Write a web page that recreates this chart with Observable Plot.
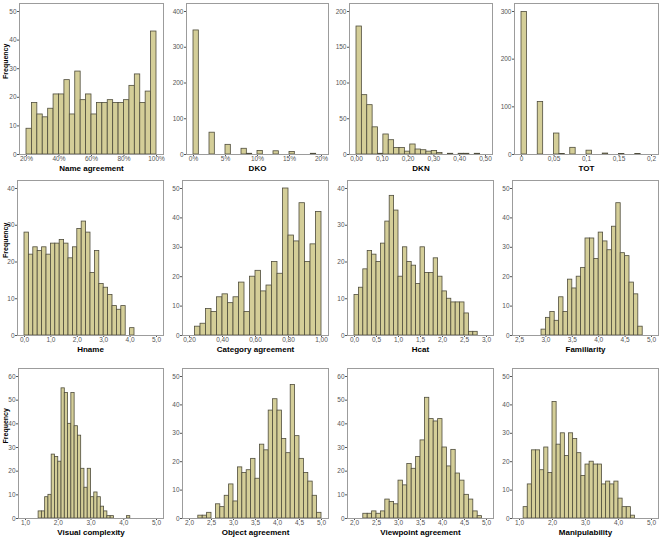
<!DOCTYPE html>
<html><head><meta charset="utf-8">
<script src="https://cdn.jsdelivr.net/npm/d3@7"></script>
<script src="https://cdn.jsdelivr.net/npm/@observablehq/plot@0.6"></script>
<style>
body{margin:0;background:#fff;}
#chart{position:relative;width:661px;height:540px;overflow:hidden;background:#fff;}
#chart svg{position:absolute;}
</style></head><body><div id="chart"></div>
<script>
// ---- data: counts per histogram bin ----
const nameAgreementCounts = [9,18,14,13,16,21,21,26,14,29,19,21,14,18,18,19,18,18,19,24,28,18,22,43];
const dkoCounts = [347,0,0,61,0,0,27,0,0,16,2,0,10,0,0,9,0,0,7,0,0,0,2];
const dknCounts = [179,83,69,38,1,28,20,9,9,4,14,7,6,4,5,2,0,1,0,1,1,0,1];
const totCounts = [299,0,0,110,0,0,44,1,0,14,0,0,8,0,0,2,0,0,1,0,0,1];
const hnameCounts = [28,22,24,23,24,22,25,25,26,25,21,24,29,31,28,17,23,14,13,11,8,7,8,0,2];
const categoryAgreementCounts = [3,4,9,8,13,14,11,13,18,8,20,22,15,17,25,21,50,34,32,45,25,31,42];
const hcatCounts = [11,13,18,23,22,20,25,31,38,34,16,24,20,19,14,24,17,17,21,16,12,10,9,9,9,6,1,1];
const familiarityCounts = [2,6,8,5,13,8,19,16,20,23,33,33,26,35,32,29,37,45,28,27,18,14,3];
const visualComplexityCounts = [3,3,9,10,27,26,24,55,53,40,53,39,35,21,13,21,9,11,9,5,3,1,1,0,0,0,0,1];
const objectAgreementCounts = [1,1,2,0,5,4,8,12,6,18,16,17,21,14,26,24,38,42,38,28,23,47,29,21,16,13,8,2];
const viewpointAgreementCounts = [2,2,3,2,3,8,7,6,16,14,23,21,26,33,51,42,41,42,30,22,29,19,16,10,8,3,1];
const manipulabilityCounts = [4,12,24,24,17,25,16,41,26,30,22,30,28,23,15,19,20,19,19,12,13,12,13,7,4,4,1];

// bin definitions: [first bin start, bin width]
const nameAgreementBins = [20, 80/24];
const dkoBins = [0, 20/24];
const dknBins = [0, 0.5/24];
const totBins = [0, 0.2/24];
const hnameBins = [0, 1/6];
const categoryAgreementBins = [0.7/3, 1/30];
const hcatBins = [0, 0.1];
const familiarityBins = [35/12, 1/12];
const visualComplexityBins = [1.4, 0.1];
const objectAgreementBins = [2.2, 0.1];
const viewpointAgreementBins = [2.2, 0.1];
const manipulabilityBins = [1.125, 0.125];

// titles
const titles = ["Name agreement","DKO","DKN","TOT","Hname","Category agreement","Hcat","Familiarity",
  "Visual complexity","Object agreement","Viewpoint agreement","Manipulability"];

// tick values
const nameAgreementXTicks = [20,40,60,80,100];
const dkoXTicks = [0,5,10,15,20];
const dknXTicks = [0,0.1,0.2,0.3,0.4,0.5];
const totXTicks = [0,0.05,0.1,0.15,0.2];
const hnameXTicks = [0,1,2,3,4,5];
const categoryAgreementXTicks = [0.2,0.4,0.6,0.8,1];
const hcatXTicks = [0,0.5,1,1.5,2,2.5,3];
const familiarityXTicks = [2.5,3,3.5,4,4.5,5];
const visualComplexityXTicks = [1,2,3,4,5];
const objectAgreementXTicks = [2,2.5,3,3.5,4,4.5,5];
const viewpointAgreementXTicks = [2,2.5,3,3.5,4,4.5,5];
const manipulabilityXTicks = [1,2,3,4,5];

const yTicks40 = [0,10,20,30,40];
const yTicks50 = [0,10,20,30,40,50];
const yTicks60 = [0,10,20,30,40,50,60];
const dkoYTicks = [0,100,200,300,400];
const dknYTicks = [0,50,100,150,200];
const totYTicks = [0,100,200,300];

// ---- formats ----
const pct = d => d + "%";
const c2 = d => d.toFixed(2).replace(".", ",");
const c1 = d => d.toFixed(1).replace(".", ",");
const cg = d => String(d).replace(".", ",");

const panels = [
  {counts: nameAgreementCounts, bins: nameAgreementBins, xt: nameAgreementXTicks, yt: yTicks50, fmt: pct},
  {counts: dkoCounts, bins: dkoBins, xt: dkoXTicks, yt: dkoYTicks, fmt: pct},
  {counts: dknCounts, bins: dknBins, xt: dknXTicks, yt: dknYTicks, fmt: c2},
  {counts: totCounts, bins: totBins, xt: totXTicks, yt: totYTicks, fmt: cg},
  {counts: hnameCounts, bins: hnameBins, xt: hnameXTicks, yt: yTicks40, fmt: c1},
  {counts: categoryAgreementCounts, bins: categoryAgreementBins, xt: categoryAgreementXTicks, yt: yTicks50, fmt: c2},
  {counts: hcatCounts, bins: hcatBins, xt: hcatXTicks, yt: yTicks40, fmt: c1},
  {counts: familiarityCounts, bins: familiarityBins, xt: familiarityXTicks, yt: yTicks50, fmt: c1},
  {counts: visualComplexityCounts, bins: visualComplexityBins, xt: visualComplexityXTicks, yt: yTicks60, fmt: c1},
  {counts: objectAgreementCounts, bins: objectAgreementBins, xt: objectAgreementXTicks, yt: yTicks50, fmt: c1},
  {counts: viewpointAgreementCounts, bins: viewpointAgreementBins, xt: viewpointAgreementXTicks, yt: yTicks60, fmt: c1},
  {counts: manipulabilityCounts, bins: manipulabilityBins, xt: manipulabilityXTicks, yt: yTicks50, fmt: c1}
];

// ---- layout: frame boxes [left, right, top, bottom] ----
const boxes = [
  [19,163,3,154],[186,328,3,154],[349,492,3,154],[514,658,3,154],
  [17,163,180,335],[182,328,180,335],[347,493,180,335],[512,658,180,335],
  [18,163,368,518],[182,328,368,518],[347,493,368,518],[512,658,368,518]
];

const FONT = "'Liberation Sans', Arial, Helvetica, sans-serif";
const BAR = "#d4ce98";
const EDGE = "#4f4d3c";
const chart = document.getElementById("chart");

panels.forEach((p, k) => {
  const [fl, fr, ft, fb] = boxes[k];
  const ml = 24, mr = 3, mt = 5, mb = 24;
  const [s, w] = p.bins;
  const data = p.counts.map((c, i) => ({x1: s + i * w, x2: s + (i + 1) * w, y: c})).filter(d => d.y > 0);
  const marks = [
    Plot.rectY(data, {x1: "x1", x2: "x2", y: "y", fill: BAR, stroke: EDGE, strokeWidth: 0.8}),
    Plot.frame({stroke: "#9c9c9c"}),
    Plot.text([titles[k]], {frameAnchor: "bottom", dy: 16.5, fontWeight: "bold", fontSize: 8, fill: "#000"})
  ];
  if (k % 4 === 0) {
    marks.push(Plot.text(["Frequency"], {frameAnchor: "left", dx: -(fl - 5), rotate: -90, fontWeight: "bold", fontSize: 7, fill: "#000"}));
  }
  const svg = Plot.plot({
    width: fr - fl + ml + mr,
    height: fb - ft + mt + mb,
    marginLeft: ml, marginRight: mr, marginTop: mt, marginBottom: mb,
    x: {domain: [p.xt[0], p.xt[p.xt.length - 1]], insetLeft: 7, insetRight: 7, ticks: p.xt, tickFormat: p.fmt, tickSize: 2, tickPadding: 0, label: null},
    y: {domain: [0, p.yt[p.yt.length - 1]], insetTop: 8, ticks: p.yt, tickSize: 2, tickPadding: 1, label: null},
    style: {fontFamily: FONT, fontSize: "6.5px", color: "#555", background: "transparent", overflow: "visible"},
    marks
  });
  svg.style.left = (fl - ml) + "px";
  svg.style.top = (ft - mt) + "px";
  chart.appendChild(svg);
});
</script></body></html>
